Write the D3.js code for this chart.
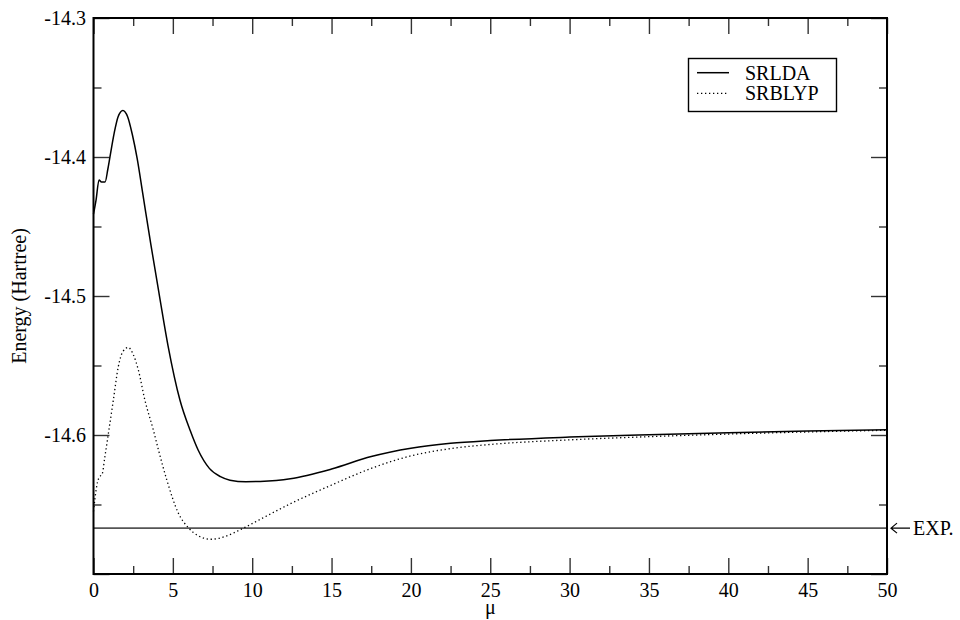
<!DOCTYPE html>
<html>
<head>
<meta charset="utf-8">
<script src="https://cdn.jsdelivr.net/npm/d3@7"></script>
<style>
  body { margin: 0; background: #fff; }
  text { font-family: "Liberation Serif", "Times New Roman", serif; }
</style>
</head>
<body>
<svg width="960" height="620"></svg>
<script>
// plot size and margins
var width = 960;
var height = 620;
var plotLeft = 93.5, plotRight = 887, plotTop = 18, plotBottom = 574;

// data
var muLDA = [0, 0.16, 0.35, 0.5, 0.73, 0.9, 1.04, 1.3, 1.55, 1.85, 2.15, 2.45, 2.75, 3.1, 3.6, 4.15, 4.7, 5.45, 6.1, 6.6, 7.3, 8.0, 8.6, 9.6, 10.5, 12.4, 15, 17.5, 20, 22.5, 25, 30, 35, 40, 45, 50];
var srlda = [-14.441, -14.431, -14.4165, -14.418, -14.418, -14.409, -14.3998, -14.383, -14.371, -14.3665, -14.371, -14.384, -14.401, -14.426, -14.462, -14.4995, -14.536, -14.575, -14.597, -14.611, -14.624, -14.630, -14.6325, -14.6336, -14.6334, -14.6315, -14.6245, -14.6155, -14.6095, -14.606, -14.604, -14.6015, -14.5998, -14.5984, -14.5972, -14.5963];

var muBLYP = [0, 0.1, 0.25, 0.4, 0.55, 0.7, 0.93, 1.25, 1.56, 1.85, 2.19, 2.5, 2.82, 3.24, 3.77, 4.1, 4.61, 5.35, 6.0, 6.6, 7.4, 8.3, 9.44, 10.7, 12.4, 15, 17.5, 20, 22.5, 25, 30, 35, 40, 45, 50];
var srblyp = [-14.655, -14.645, -14.634, -14.630, -14.628, -14.617, -14.5995, -14.575, -14.551, -14.540, -14.537, -14.542, -14.553, -14.575, -14.5964, -14.611, -14.632, -14.6563, -14.667, -14.6725, -14.675, -14.673, -14.667, -14.6595, -14.6495, -14.636, -14.624, -14.615, -14.6098, -14.6068, -14.6035, -14.6012, -14.5993, -14.5978, -14.5966];

var expEnergy = -14.667;

var xTicks = [0, 5, 10, 15, 20, 25, 30, 35, 40, 45, 50];
var yTicks = [-14.7, -14.6, -14.5, -14.4, -14.3];
var yTickLabels = ["", "-14.6", "-14.5", "-14.4", "-14.3"];
var seriesNames = ["SRLDA", "SRBLYP"];

var svg = d3.select("svg").attr("width", width).attr("height", height);

// scales
let xScale = d3.scaleLinear().domain([0, 50]).range([plotLeft, plotRight]);
let yScale = d3.scaleLinear().domain([-14.7, -14.3]).range([plotBottom, plotTop]);

let xMinor = d3.range(2.5, 50, 5);
let yMinor = [-14.65, -14.55, -14.45, -14.35];

// ticks on all four sides, pointing inward
function ticks(g, axis) {
    g.call(axis);
    g.select(".domain").remove();
    g.selectAll(".tick line").attr("stroke", "#333").attr("stroke-width", 1.4);
    g.selectAll(".tick text").attr("font-size", 20).attr("fill", "#000")
        .attr("font-family", "Liberation Serif, Times New Roman, serif");
}

svg.append("g").attr("transform", "translate(0," + plotBottom + ")")
    .call(g => ticks(g, d3.axisBottom(xScale).tickValues(xTicks).tickSize(-16).tickPadding(9).tickFormat(d3.format("d"))));
svg.append("g").attr("transform", "translate(0," + plotBottom + ")")
    .call(g => ticks(g, d3.axisBottom(xScale).tickValues(xMinor).tickSize(-8).tickFormat("")));
svg.append("g").attr("transform", "translate(0," + plotTop + ")")
    .call(g => ticks(g, d3.axisTop(xScale).tickValues(xTicks).tickSize(-16).tickFormat("")));
svg.append("g").attr("transform", "translate(0," + plotTop + ")")
    .call(g => ticks(g, d3.axisTop(xScale).tickValues(xMinor).tickSize(-8).tickFormat("")));

svg.append("g").attr("transform", "translate(" + plotLeft + ",0)")
    .call(g => ticks(g, d3.axisLeft(yScale).tickValues(yTicks).tickSize(-16).tickPadding(7.5).tickFormat((d, i) => yTickLabels[i])));
svg.append("g").attr("transform", "translate(" + plotLeft + ",0)")
    .call(g => ticks(g, d3.axisLeft(yScale).tickValues(yMinor).tickSize(-8).tickFormat("")));
svg.append("g").attr("transform", "translate(" + plotRight + ",0)")
    .call(g => ticks(g, d3.axisRight(yScale).tickValues(yTicks).tickSize(-16).tickFormat("")));
svg.append("g").attr("transform", "translate(" + plotRight + ",0)")
    .call(g => ticks(g, d3.axisRight(yScale).tickValues(yMinor).tickSize(-8).tickFormat("")));

// experimental line
svg.append("line")
    .attr("x1", xScale(0)).attr("x2", xScale(50))
    .attr("y1", yScale(expEnergy)).attr("y2", yScale(expEnergy))
    .attr("stroke", "#555").attr("stroke-width", 1.6);

// curves
let line = d3.line().curve(d3.curveMonotoneX);

svg.append("path")
    .attr("d", line(muLDA.map((m, i) => [xScale(m), yScale(srlda[i])])))
    .attr("fill", "none").attr("stroke", "#000").attr("stroke-width", 1.5);

svg.append("path")
    .attr("d", line(muBLYP.map((m, i) => [xScale(m), yScale(srblyp[i])])))
    .attr("fill", "none").attr("stroke", "#000").attr("stroke-width", 1.3)
    .attr("stroke-dasharray", "1.3,2.7");

// frame
svg.append("rect")
    .attr("x", plotLeft).attr("y", plotTop).attr("width", plotRight - plotLeft).attr("height", plotBottom - plotTop)
    .attr("fill", "none").attr("stroke", "#000").attr("stroke-width", 2);

// axis titles
svg.append("text").attr("x", (plotLeft + plotRight) / 2).attr("y", 614)
    .attr("text-anchor", "middle").attr("font-size", 20).text("μ");
svg.append("text")
    .attr("transform", "translate(26," + ((plotTop + plotBottom) / 2) + ") rotate(-90)")
    .attr("text-anchor", "middle").attr("font-size", 20).text("Energy (Hartree)");

// EXP. label with arrow
let ey = yScale(expEnergy);
svg.append("path")
    .attr("d", "M" + (plotRight + 4) + "," + ey + "H" + (plotRight + 23)
        + "M" + (plotRight + 10) + "," + (ey - 5) + "L" + (plotRight + 4) + "," + ey + "L" + (plotRight + 10) + "," + (ey + 5))
    .attr("fill", "none").attr("stroke", "#000").attr("stroke-width", 1.2);
svg.append("text").attr("x", plotRight + 26).attr("y", ey).attr("dy", "0.35em")
    .attr("font-size", 20).text("EXP.");

// legend
let legend = svg.append("g");
legend.append("rect").attr("x", 688.5).attr("y", 58.5).attr("width", 148).attr("height", 53)
    .attr("fill", "#fff").attr("stroke", "#000").attr("stroke-width", 1.4);
seriesNames.forEach((name, i) => {
    let ly = 72.7 + i * 20.6;
    legend.append("line").attr("x1", 697).attr("x2", 729).attr("y1", ly).attr("y2", ly)
        .attr("stroke", "#000").attr("stroke-width", i === 0 ? 1.5 : 1.3)
        .attr("stroke-dasharray", i === 0 ? null : "1.3,2.7");
    legend.append("text").attr("x", 745).attr("y", ly).attr("dy", "0.34em")
        .attr("font-size", 20).text(name);
});
</script>
</body>
</html>
